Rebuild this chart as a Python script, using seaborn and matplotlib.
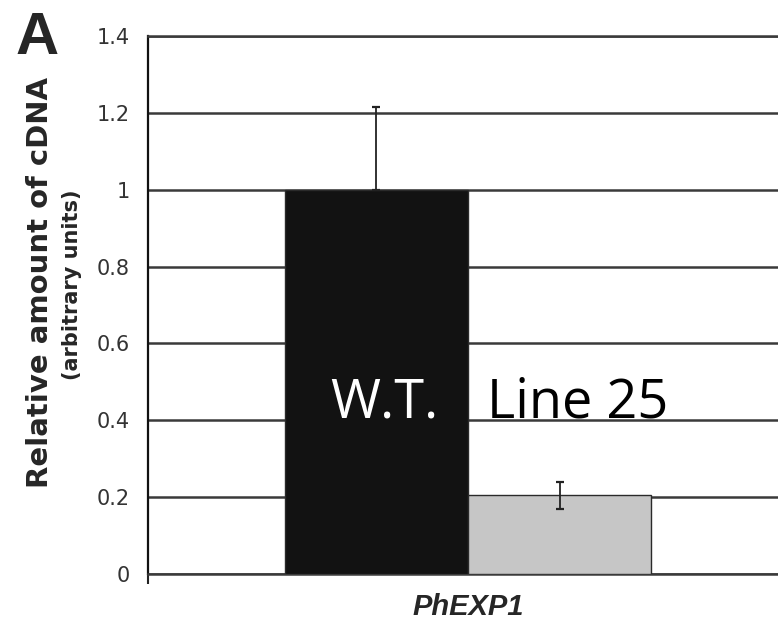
import pandas as pd
import matplotlib.pyplot as plt
import seaborn as sns

# values
genes = ["PhEXP1", "PhEXP1"]
samples = ["W.T.", "Line 25"]
values = [1.0, 0.205]
err_low = [0.0, 0.035]    # lower whisker of W.T. is hidden by the bar
err_high = [0.215, 0.035]
yticks = [0, 0.2, 0.4, 0.6, 0.8, 1.0, 1.2, 1.4]
ytick_labels = ["0", "0.2", "0.4", "0.6", "0.8", "1", "1.2", "1.4"]
bar_colors = ["#121212", "#c6c6c6"]

df = pd.DataFrame({"gene": genes, "sample": samples, "value": values})

sns.set_style("white")
fig = plt.figure(figsize=(7.78, 6.21), dpi=100)
ax = fig.add_axes([148 / 778, 1 - 574 / 621, 640 / 778, 538 / 621])

sns.barplot(data=df, x="gene", y="value", hue="sample", palette=bar_colors,
            width=0.572, gap=0, errorbar=None, edgecolor="#2a2a2a",
            linewidth=1, legend=False, ax=ax, zorder=3)

# error bars placed on the bar centres that seaborn drew
bars = sorted(ax.patches, key=lambda p: p.get_x())
xs = [b.get_x() + b.get_width() / 2 for b in bars]
ax.errorbar(xs, values, yerr=[err_low, err_high], fmt="none", ecolor="#222222",
            elinewidth=1.3, capsize=3, capthick=1.6, zorder=4)

ax.set_xlim(-0.5, 0.5)
ax.set_ylim(0, 1.4)
ax.set_yticks(yticks)
ax.set_yticklabels(ytick_labels, fontsize=15, color="#333333")
ax.tick_params(axis="y", length=0, pad=13)
ax.set_xticks([0])
ax.set_xticklabels(["PhEXP1"], family="Liberation Sans", fontsize=21,
                   fontweight="bold", fontstyle="italic")
ax.tick_params(axis="x", length=0, pad=14)
ax.set_xticks([-0.5], minor=True)
ax.tick_params(axis="x", which="minor", bottom=True, length=7, width=1.5,
               color="#222222")
ax.set_xlabel("")
ax.set_ylabel("")

ax.grid(axis="y", color="#3a3a3a", linewidth=1.8, zorder=0)
ax.set_axisbelow(True)
ax.spines["right"].set_visible(False)
ax.spines["top"].set_color("#3a3a3a")
ax.spines["top"].set_linewidth(1.8)
ax.spines["bottom"].set_color("#3a3a3a")
ax.spines["bottom"].set_linewidth(1.8)
ax.spines["left"].set_color("#111111")
ax.spines["left"].set_linewidth(1.6)

ax.text(-0.2156, 0.408, "W.T.", family="Open Sans", fontsize=39,
        color="white", ha="left", va="baseline", zorder=5)
ax.text(0.0297, 0.408, "Line 25", family="Open Sans", fontsize=39,
        color="black", ha="left", va="baseline", zorder=5)

fig.text(40 / 778, 1 - 283 / 621, "Relative amount of cDNA", rotation=90,
         ha="center", va="center", family="DejaVu Sans", fontweight="bold",
         fontsize=21)
fig.text(72 / 778, 1 - 285 / 621, "(arbitrary units)", rotation=90,
         ha="center", va="center", family="DejaVu Sans", fontweight="bold",
         fontsize=15)
fig.text(16 / 778, 1 - 54 / 621, "A", family="Liberation Sans",
         fontweight="bold", fontsize=43, va="baseline")

fig.savefig("out.png", dpi=100)
